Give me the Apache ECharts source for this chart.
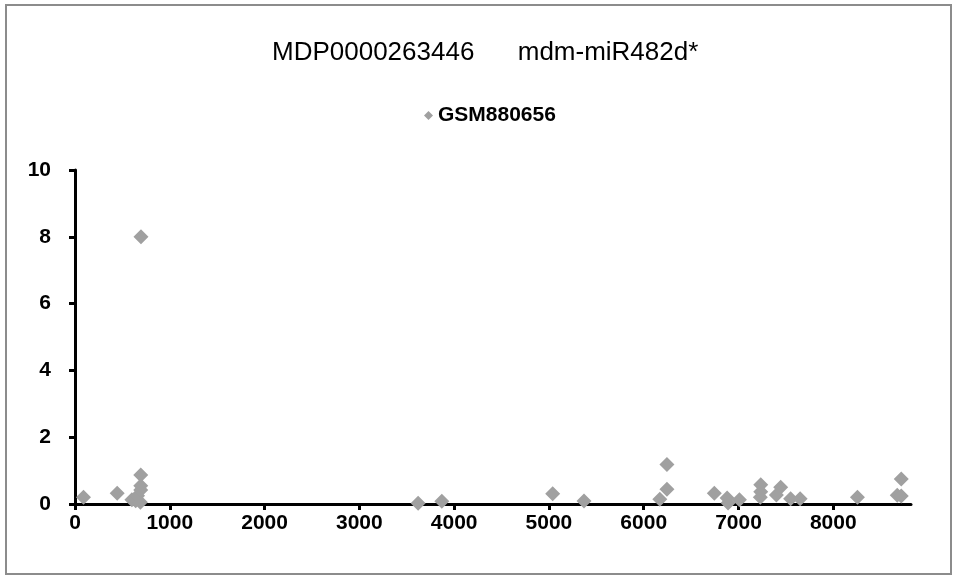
<!DOCTYPE html>
<html>
<head>
<meta charset="utf-8">
<script src="https://cdn.jsdelivr.net/npm/echarts@6/dist/echarts.min.js"></script>
<style>
  html, body { margin: 0; padding: 0; background: #fff; }
  .chart_box { width: 959px; height: 581px; }
</style>
</head>
<body>
<div class="chart_box" id="chart_box"></div>
<script>
// 数据
const titleText = 'MDP0000263446      mdm-miR482d*'
const seriesName = 'GSM880656'
const xVals = [90, 445, 600, 640, 660, 690, 694, 694, 694, 696,
  3620, 3870, 5040, 5370, 6170, 6245, 6245, 6745, 6880, 6890,
  7010, 7230, 7235, 7235, 7400, 7445, 7550, 7650, 8255, 8675, 8717, 8717]
const yVals = [0.2, 0.32, 0.13, 0.1, 0.25, 0.05, 0.42, 0.55, 0.87, 8.0,
  0.02, 0.08, 0.31, 0.09, 0.14, 0.44, 1.18, 0.32, 0.18, 0.03,
  0.13, 0.2, 0.37, 0.58, 0.27, 0.5, 0.16, 0.16, 0.2, 0.26, 0.24, 0.75]
const xMax = 8820
const yTicks = [0, 2, 4, 6, 8, 10]

const chart = echarts.init(document.getElementById('chart_box'))
const labelFont = {
  color: '#000',
  fontFamily: 'Liberation Sans, Arial, sans-serif',
  fontWeight: 'bold',
  fontSize: 21,
}
const option = {
  backgroundColor: '#fff',
  graphic: [{
    type: 'rect',
    shape: { x: 6, y: 5, width: 945, height: 569 },
    style: { fill: 'none', stroke: '#8c8c8c', lineWidth: 2 },
    silent: true,
  }],
  title: {
    text: titleText,
    left: 267,
    top: 35,
    textStyle: {
      color: '#000',
      fontFamily: 'Liberation Sans, Arial, sans-serif',
      fontWeight: 'normal',
      fontSize: 26,
    },
  },
  legend: {
    top: 100,
    left: 419,
    icon: 'diamond',
    itemWidth: 9,
    itemHeight: 9,
    itemGap: 6,
    textStyle: labelFont,
    data: [seriesName],
  },
  grid: {
    left: 75,
    right: 48,
    top: 170,
    bottom: 77,
  },
  xAxis: {
    type: 'value',
    min: 0,
    max: xMax,
    interval: 1000,
    splitLine: { show: false },
    axisLine: { lineStyle: { color: '#000', width: 3 } },
    axisTick: { show: true, length: 6, lineStyle: { color: '#000', width: 3 } },
    axisLabel: Object.assign({
      margin: 9,
      showMaxLabel: false,
      formatter: v => String(v),
    }, labelFont),
  },
  yAxis: {
    type: 'value',
    min: yTicks[0],
    max: yTicks[yTicks.length - 1],
    interval: 2,
    splitLine: { show: false },
    axisLine: { show: true, lineStyle: { color: '#000', width: 3 } },
    axisTick: { show: true, length: 6, lineStyle: { color: '#000', width: 3 } },
    axisLabel: Object.assign({ margin: 24 }, labelFont),
  },
  series: [{
    name: seriesName,
    type: 'scatter',
    symbol: 'diamond',
    symbolSize: 15,
    itemStyle: { color: '#a0a0a0', opacity: 1 },
    data: xVals.map((x, i) => [x, yVals[i]]),
  }],
}
chart.setOption(option)
</script>
</body>
</html>
